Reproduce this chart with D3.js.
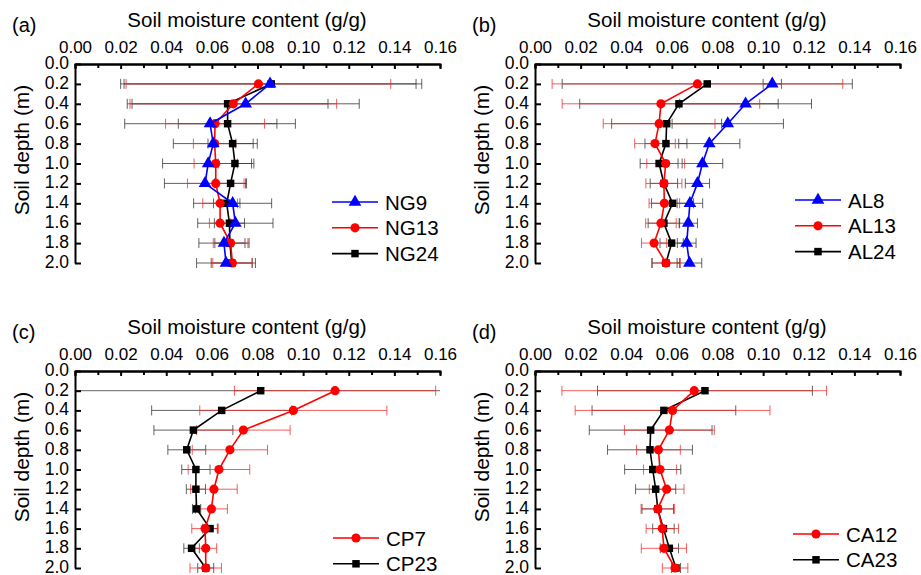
<!DOCTYPE html>
<meta charset="utf-8">
<style>
    body {
        margin: 0;
        background: #fff;
        font-family: "Liberation Sans", Arial, Helvetica, sans-serif;
    }

    svg {
        display: block;
    }

    .axis path,
    .axis line {
        stroke: #000;
        stroke-width: 2px;
    }

    .axis text {
        fill: #000;
        font-family: "Liberation Sans", Arial, sans-serif;
    }

    .err {
        stroke-width: 1px;
        fill: none;
    }

    .series-line {
        fill: none;
        stroke-width: 1.6px;
    }

    .title, .label, .legend text {
        font-family: "Liberation Sans", Arial, sans-serif;
        fill: #000;
    }
</style>

<body>
    <script src="https://d3js.org/d3.v7.min.js"></script>
    <script>

        // depth of each sample (m)
        var depths = [0.2, 0.4, 0.6, 0.8, 1.0, 1.2, 1.4, 1.6, 1.8, 2.0];
        var xTicks = [0, 0.02, 0.04, 0.06, 0.08, 0.10, 0.12, 0.14, 0.16];
        var yTicks = [0, 0.2, 0.4, 0.6, 0.8, 1.0, 1.2, 1.4, 1.6, 1.8, 2.0];

        // (a) NG
        var ng9 = [0.0855, 0.0748, 0.0592, 0.0606, 0.0584, 0.0570, 0.0691, 0.0703, 0.0653, 0.0662];
        var ng9Err = [0.064, 0.0498, 0.0374, 0.0175, 0.020, 0.0178, 0.0171, 0.0165, 0.011, 0.0129];
        var ng13 = [0.0804, 0.0694, 0.0614, 0.0612, 0.0617, 0.0617, 0.0636, 0.0636, 0.0682, 0.069];
        var ng13Err = [0.058, 0.0453, 0.0217, 0.0093, 0.0095, 0.0124, 0.0076, 0.0047, 0.0076, 0.0086];
        var ng24 = [0.086, 0.0669, 0.0669, 0.0691, 0.0701, 0.0682, 0.0665, 0.0677, 0.0679, 0.0687];
        var ng24Err = [0.066, 0.044, 0.0216, 0.0108, 0.0073, 0.007, 0.0058, 0.0066, 0.0066, 0.009];

        // (b) AL
        var al8 = [0.104, 0.0923, 0.0845, 0.0764, 0.0734, 0.0712, 0.0679, 0.0672, 0.0665, 0.0677];
        var al8Err = [0.004, 0.0289, 0.0244, 0.0134, 0.0089, 0.0053, 0.0056, 0.004, 0.0041, 0.0054];
        var al13 = [0.0712, 0.0552, 0.0544, 0.0526, 0.0573, 0.0565, 0.0567, 0.0552, 0.0522, 0.0574];
        var al13Err = [0.0637, 0.0433, 0.0245, 0.0089, 0.0083, 0.0079, 0.0067, 0.0067, 0.0055, 0.0063];
        var al24 = [0.0755, 0.0631, 0.0577, 0.0574, 0.0544, 0.0565, 0.0603, 0.0565, 0.0599, 0.0574];
        var al24Err = [0.0636, 0.0435, 0.0241, 0.0092, 0.0083, 0.006, 0.0092, 0.0069, 0.0051, 0.006];

        // (c) CP
        var cp7 = [0.114, 0.0957, 0.0738, 0.0679, 0.0631, 0.0609, 0.0598, 0.057, 0.0573, 0.0573];
        var cp7Err = [0.0441, 0.041, 0.0205, 0.0165, 0.0135, 0.0102, 0.007, 0.0058, 0.0048, 0.0069];
        var cp23 = [0.0814, 0.0643, 0.0519, 0.049, 0.053, 0.053, 0.0533, 0.0592, 0.0511, 0.0573];
        var cp23Err = [0.085, 0.0307, 0.0173, 0.0083, 0.0062, 0.0042, 0.0018, 0.0032, 0.0034, 0.0035];

        // (d) CA
        var ca12 = [0.0698, 0.0603, 0.0589, 0.0541, 0.0548, 0.0577, 0.0538, 0.0558, 0.0565, 0.0614];
        var ca12Err = [0.058, 0.0427, 0.0197, 0.0096, 0.0072, 0.0076, 0.0073, 0.0071, 0.0099, 0.0056];
        var ca23 = [0.0745, 0.0565, 0.0507, 0.0504, 0.0516, 0.0529, 0.0538, 0.0563, 0.0589, 0.0618];
        var ca23Err = [0.0471, 0.0315, 0.0269, 0.0186, 0.0123, 0.0088, 0.0069, 0.0047, 0.004, 0.002];

        var width = 921,
            height = 575,
            plotW = 365;

        var styles = {
            blue: { color: "#0000ff", err: "rgba(60,60,60,0.8)", shape: d3.symbolTriangle, size: 70 },
            red: { color: "#ff0000", err: "rgba(240,40,40,0.75)", shape: d3.symbolCircle, size: 66 },
            black: { color: "#000000", err: "rgba(60,60,60,0.8)", shape: d3.symbolSquare, size: 56 }
        };

        // series listed in drawing order (bottom first); legend order is separate
        var panels = [
            { tag: "(a)", left: 75, top: 64, plotH: 199, legendX: 332, legendY: 202,
              series: [
                  { name: "NG24", vals: ng24, err: ng24Err, style: "black" },
                  { name: "NG13", vals: ng13, err: ng13Err, style: "red" },
                  { name: "NG9", vals: ng9, err: ng9Err, style: "blue" }
              ],
              legend: ["NG9", "NG13", "NG24"] },
            { tag: "(b)", left: 535, top: 64, plotH: 199, legendX: 795, legendY: 200,
              series: [
                  { name: "AL24", vals: al24, err: al24Err, style: "black" },
                  { name: "AL13", vals: al13, err: al13Err, style: "red" },
                  { name: "AL8", vals: al8, err: al8Err, style: "blue" }
              ],
              legend: ["AL8", "AL13", "AL24"] },
            { tag: "(c)", left: 75, top: 371, plotH: 197, legendX: 333, legendY: 538,
              series: [
                  { name: "CP23", vals: cp23, err: cp23Err, style: "black" },
                  { name: "CP7", vals: cp7, err: cp7Err, style: "red" }
              ],
              legend: ["CP7", "CP23"] },
            { tag: "(d)", left: 535, top: 371, plotH: 197, legendX: 793, legendY: 534,
              series: [
                  { name: "CA23", vals: ca23, err: ca23Err, style: "black" },
                  { name: "CA12", vals: ca12, err: ca12Err, style: "red" }
              ],
              legend: ["CA12", "CA23"] }
        ];

        var svg = d3.select("body")
            .append("svg")
            .attr("width", width)
            .attr("height", height);

        panels.forEach(function (p, i) {
            var x = d3.scaleLinear().domain([0, 0.16]).range([p.left, p.left + plotW]);
            var y = d3.scaleLinear().domain([0, 2]).range([p.top, p.top + p.plotH]);
            var g = svg.append("g").attr("class", "panel");

            /* ------- CLIP (error bars run past the axis) -------*/
            var clipId = "clip" + i;
            svg.append("clipPath").attr("id", clipId)
                .append("rect")
                .attr("x", p.left).attr("y", 0)
                .attr("width", plotW).attr("height", height);

            var data = g.append("g").attr("clip-path", "url(#" + clipId + ")");

            /* ------- ERROR BARS -------*/
            // grey ones first, red ones over them
            var errOrder = p.series.filter(function (s) { return s.style != "red"; })
                .concat(p.series.filter(function (s) { return s.style == "red"; }));

            errOrder.forEach(function (s) {
                var st = styles[s.style];
                var eg = data.append("g").attr("class", "err").attr("stroke", st.err);
                depths.forEach(function (dep, k) {
                    var lo = x(s.vals[k] - s.err[k]),
                        hi = x(s.vals[k] + s.err[k]),
                        yy = y(dep);
                    eg.append("line").attr("x1", lo).attr("x2", hi).attr("y1", yy).attr("y2", yy);
                    eg.append("line").attr("x1", lo).attr("x2", lo).attr("y1", yy - 5).attr("y2", yy + 5);
                    eg.append("line").attr("x1", hi).attr("x2", hi).attr("y1", yy - 5).attr("y2", yy + 5);
                });
            });

            /* ------- LINES AND MARKERS -------*/
            var line = d3.line()
                .x(function (d) { return x(d.v); })
                .y(function (d) { return y(d.dep); });

            p.series.forEach(function (s) {
                var st = styles[s.style];
                var pts = depths.map(function (dep, k) { return { dep: dep, v: s.vals[k] }; });
                g.append("path")
                    .datum(pts)
                    .attr("class", "series-line")
                    .attr("stroke", st.color)
                    .attr("d", line);
                g.selectAll(null)
                    .data(pts)
                    .enter()
                    .append("path")
                    .attr("transform", function (d) { return "translate(" + x(d.v) + "," + y(d.dep) + ")"; })
                    .attr("d", d3.symbol().type(st.shape).size(st.size))
                    .attr("fill", st.color);
            });

            /* ------- AXES -------*/
            var minor = d3.range(0.01, 0.16, 0.02);
            g.append("g")
                .attr("class", "axis")
                .attr("transform", "translate(0," + p.top + ")")
                .call(d3.axisTop(x).tickValues(minor).tickSize(-4).tickFormat(""));

            g.append("g")
                .attr("class", "axis")
                .attr("transform", "translate(0," + p.top + ")")
                .call(d3.axisTop(x).tickValues(xTicks).tickSizeInner(-5).tickSizeOuter(0)
                    .tickPadding(11).tickFormat(d3.format(".2f")))
                .selectAll("text")
                .style("font-size", "17px");

            g.append("g")
                .attr("class", "axis")
                .attr("transform", "translate(" + p.left + ",0)")
                .call(d3.axisLeft(y).tickValues(yTicks).tickSizeInner(-6).tickSizeOuter(0)
                    .tickPadding(6).tickFormat(d3.format(".1f")))
                .selectAll("text")
                .attr("dy", "0.26em")
                .style("font-size", "17.5px");

            /* ------- TITLES -------*/
            g.append("text")
                .attr("class", "title")
                .attr("x", p.left + 172)
                .attr("y", p.top - 37)
                .attr("text-anchor", "middle")
                .style("font-size", "20.5px")
                .text("Soil moisture content (g/g)");

            g.append("text")
                .attr("class", "label")
                .attr("x", p.left - 63)
                .attr("y", p.top - 32)
                .style("font-size", "20px")
                .text(p.tag);

            g.append("text")
                .attr("class", "title")
                .attr("transform", "translate(" + (p.left - 46) + "," + (p.top + 86) + ") rotate(-90)")
                .attr("text-anchor", "middle")
                .style("font-size", "21px")
                .text("Soil depth (m)");

            /* ------- LEGEND -------*/
            var lg = g.append("g").attr("class", "legend");
            p.legend.forEach(function (name, k) {
                var s = p.series.filter(function (d) { return d.name == name; })[0];
                var st = styles[s.style];
                var ly = p.legendY + k * 25.8;
                lg.append("line")
                    .attr("x1", p.legendX).attr("x2", p.legendX + 46)
                    .attr("y1", ly).attr("y2", ly)
                    .attr("stroke", st.color)
                    .attr("stroke-width", 1.6);
                lg.append("path")
                    .attr("transform", "translate(" + (p.legendX + 23) + "," + ly + ")")
                    .attr("d", d3.symbol().type(st.shape).size(st.size))
                    .attr("fill", st.color);
                lg.append("text")
                    .attr("x", p.legendX + 53)
                    .attr("y", ly + 7.5)
                    .style("font-size", "20.5px")
                    .text(name);
            });
        });

    </script>
</body>
